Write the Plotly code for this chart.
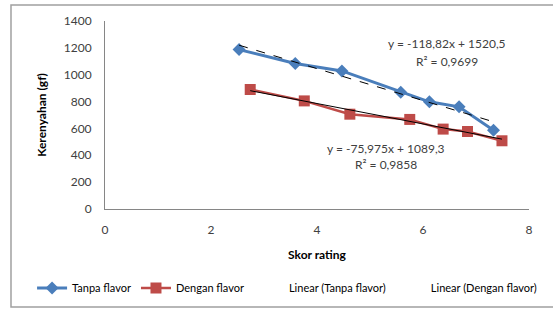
import plotly.graph_objects as go

# Data
x_tanpa = [2.53, 3.59, 4.47, 5.58, 6.12, 6.68, 7.33]
y_tanpa = [1187, 1083, 1028, 870, 798, 761, 587]
x_dengan = [2.74, 3.76, 4.62, 5.75, 6.38, 6.84, 7.49]
y_dengan = [890, 805, 706, 667, 595, 577, 508]

# Trendline coefficients (from the equations shown)
slope_tanpa, icpt_tanpa = -118.82, 1520.5
slope_dengan, icpt_dengan = -75.975, 1089.3

eq_tanpa = "y = -118,82x + 1520,5"
r2_tanpa = "R² = 0,9699"
eq_dengan = "y = -75,975x + 1089,3"
r2_dengan = "R² = 0,9858"

x_ticks = [0, 2, 4, 6, 8]
y_ticks = [0, 200, 400, 600, 800, 1000, 1200, 1400]

FONT = "Lato"
BLUE = "#4A7EBB"
RED = "#BE4B48"

def trend(xs, a, b):
    x0, x1 = min(xs), max(xs)
    return [x0, x1], [a * x0 + b, a * x1 + b]

fig = go.Figure()

fig.add_trace(go.Scatter(
    x=x_tanpa, y=y_tanpa, mode="lines+markers", name="Tanpa flavor",
    line=dict(color=BLUE, width=3),
    marker=dict(symbol="diamond", size=10, color=BLUE),
))
fig.add_trace(go.Scatter(
    x=x_dengan, y=y_dengan, mode="lines+markers", name="Dengan flavor",
    line=dict(color=RED, width=2.5),
    marker=dict(symbol="square", size=11, color=RED),
))

tx, ty = trend(x_tanpa, slope_tanpa, icpt_tanpa)
fig.add_trace(go.Scatter(
    x=tx, y=ty, mode="lines", name="Linear (Tanpa flavor)",
    line=dict(color="black", width=1, dash="dash"), showlegend=False,
))
dx, dy = trend(x_dengan, slope_dengan, icpt_dengan)
fig.add_trace(go.Scatter(
    x=dx, y=dy, mode="lines", name="Linear (Dengan flavor)",
    line=dict(color="black", width=1), showlegend=False,
))
# legend entries for trendlines (symbol not visible in reference)
for nm in ["Linear (Tanpa flavor)", "Linear (Dengan flavor)"]:
    fig.add_trace(go.Scatter(
        x=[None], y=[None], mode="lines", name=nm,
        line=dict(color="rgba(0,0,0,0)", width=1),
    ))

def ann(text, xp, yp):
    return dict(text=text, x=xp, y=yp, xref="paper", yref="paper",
                showarrow=False, xanchor="center", yanchor="middle",
                font=dict(family=FONT, size=12, color="#404040"))

fig.update_layout(
    width=553, height=310,
    margin=dict(l=105, r=24, t=21, b=101, autoexpand=False),
    paper_bgcolor="white", plot_bgcolor="white",
    font=dict(family=FONT, size=12, color="#404040"),
    showlegend=True,
    legend=dict(orientation="h", x=-0.172, y=-0.42, xanchor="left", yanchor="middle",
                font=dict(family=FONT, size=11, color="black"),
                itemwidth=30, tracegroupgap=0),
    annotations=[
        ann(eq_tanpa, 0.807, 0.878),
        ann(r2_tanpa, 0.807, 0.787),
        ann(eq_dengan, 0.663, 0.324),
        ann(r2_dengan, 0.663, 0.239),
    ],
    shapes=[dict(type="rect", xref="paper", yref="paper",
                 x0=-0.2217, x1=1.07, y0=-0.521, y1=1.085,
                 line=dict(color="#A0A0A0", width=1.5), layer="below")],
)

fig.update_xaxes(
    range=[0, 8], tickvals=x_ticks, showgrid=False, zeroline=False,
    showline=True, linecolor="#868686", linewidth=1, automargin=False,
    ticks="outside", ticklen=10, tickcolor="rgba(0,0,0,0)",
    tickfont=dict(family=FONT, size=12, color="#404040"),
    title=dict(text="<b>Skor rating</b>", standoff=14,
               font=dict(family=FONT, size=12, color="black")),
)
fig.update_yaxes(
    range=[0, 1400], tickvals=y_ticks, showgrid=False, zeroline=False,
    showline=True, linecolor="#868686", linewidth=1, automargin=False,
    ticks="outside", ticklen=10, tickcolor="rgba(0,0,0,0)",
    tickfont=dict(family=FONT, size=12, color="#404040"),
    title=dict(text="<b>Kerenyahan (gf)</b>", standoff=14,
               font=dict(family=FONT, size=12, color="black")),
)

fig.write_html("out.html", config={"displayModeBar": False},
               post_script="document.body.style.margin='0';")
